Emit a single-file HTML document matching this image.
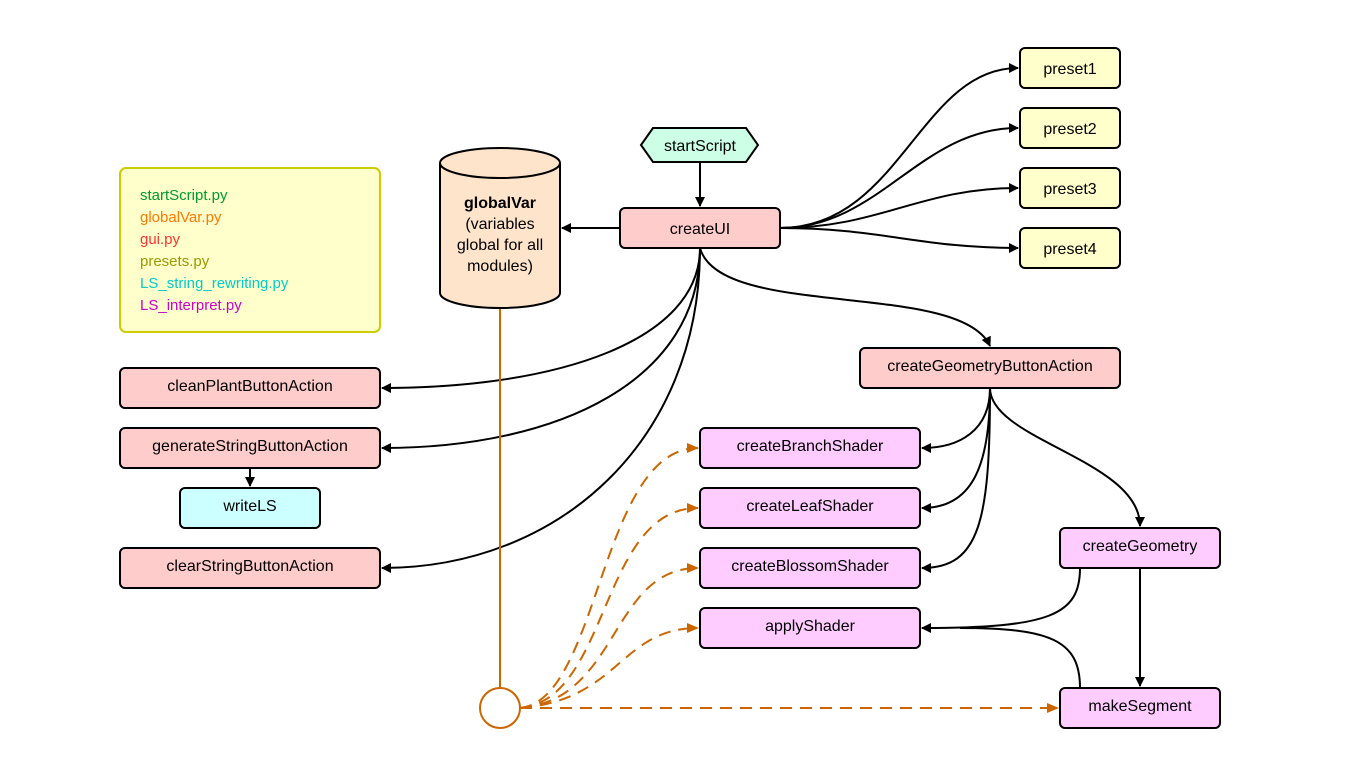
<!DOCTYPE html>
<html><head><meta charset="utf-8"><style>
html,body{margin:0;padding:0;background:#fff;}
svg{display:block;font-family:"Liberation Sans",Arial,sans-serif;}
</style></head><body>
<svg width="1360" height="780" viewBox="0 0 1360 780" xmlns="http://www.w3.org/2000/svg">
<defs>
<marker id="ab" markerWidth="10" markerHeight="10" refX="9" refY="5" orient="auto" markerUnits="userSpaceOnUse"><path d="M0,0 L10,5 L0,10 z" fill="#000"/></marker>
<marker id="ao" markerWidth="12" markerHeight="10" refX="11" refY="5" orient="auto" markerUnits="userSpaceOnUse"><path d="M0,0 L12,5 L0,10 z" fill="#cc6600"/></marker>
</defs>
<rect width="1360" height="780" fill="#fff"/>

<!-- legend -->
<rect x="120" y="168" width="260" height="164" rx="6" fill="#ffffcc" stroke="#cccc00" stroke-width="2"/>
<g font-size="15">
<text x="140" y="200" fill="#009933">startScript.py</text>
<text x="140" y="222" fill="#ff7700">globalVar.py</text>
<text x="140" y="244" fill="#ff3333">gui.py</text>
<text x="140" y="266" fill="#999900">presets.py</text>
<text x="140" y="288" fill="#00cccc">LS_string_rewriting.py</text>
<text x="140" y="310" fill="#cc00cc">LS_interpret.py</text>
</g>

<!-- black edges -->
<g fill="none" stroke="#000" stroke-width="2">
<path d="M700,162 L700,206" marker-end="url(#ab)"/>
<path d="M620,228 L562,228" marker-end="url(#ab)"/>
<path d="M780,228 C900,228 920,68 1018,68" marker-end="url(#ab)"/>
<path d="M780,228 C880,228 920,128 1018,128" marker-end="url(#ab)"/>
<path d="M780,228 C880,228 920,188 1018,188" marker-end="url(#ab)"/>
<path d="M780,228 C880,228 920,248 1018,248" marker-end="url(#ab)"/>
<path d="M700,248 C700,340 560,388 382,388" marker-end="url(#ab)"/>
<path d="M700,248 C700,380 560,448 382,448" marker-end="url(#ab)"/>
<path d="M700,248 C700,440 560,568 382,568" marker-end="url(#ab)"/>
<path d="M700,248 C720,320 960,280 990,346" marker-end="url(#ab)"/>
<path d="M990,388 C990,430 960,448 922,448" marker-end="url(#ab)"/>
<path d="M990,388 C990,470 970,508 922,508" marker-end="url(#ab)"/>
<path d="M990,388 C990,520 980,568 922,568" marker-end="url(#ab)"/>
<path d="M990,388 C990,440 1140,460 1140,526" marker-end="url(#ab)"/>
<path d="M1080,568 C1080,615 1050,628 922,628" marker-end="url(#ab)"/>
<path d="M1080,688 C1080,640 1050,628 960,628"/>
<path d="M1140,568 L1140,686" marker-end="url(#ab)"/>
<path d="M250,468 L250,486" marker-end="url(#ab)"/>
</g>

<!-- orange -->
<g fill="none" stroke="#cc6600" stroke-width="2">
<path d="M500,308 L500,688"/>
<circle cx="500" cy="708" r="20"/>
<g stroke-dasharray="12,8">
<path d="M520,708 C600,700 600,448 698,448" marker-end="url(#ao)"/>
<path d="M520,708 C610,700 600,508 698,508" marker-end="url(#ao)"/>
<path d="M520,708 C620,700 610,568 698,568" marker-end="url(#ao)"/>
<path d="M520,708 C620,700 620,628 698,628" marker-end="url(#ao)"/>
<path d="M520,708 L1058,708" marker-end="url(#ao)"/>
</g>
</g>

<!-- cylinder -->
<path d="M440,163 L440,293 A60,15 0 0 0 560,293 L560,163" fill="#ffe4cc" stroke="#000" stroke-width="2"/>
<ellipse cx="500" cy="163" rx="60" ry="15" fill="#ffe4cc" stroke="#000" stroke-width="2"/>
<g font-size="16" text-anchor="middle">
<text x="500" y="208" font-weight="bold">globalVar</text>
<text x="500" y="229">(variables</text>
<text x="500" y="250">global for all</text>
<text x="500" y="271">modules)</text>
</g>

<!-- hexagon -->
<path d="M653,128 L746,128 L758,145 L746,162 L653,162 L641,145 Z" fill="#ccffe6" stroke="#000" stroke-width="2"/>
<text x="700" y="151" font-size="16" text-anchor="middle">startScript</text>

<g stroke="#000" stroke-width="2" font-size="16" text-anchor="middle">
<rect x="1020" y="48" width="100" height="40" rx="5" fill="#ffffcc"/>
<rect x="1020" y="108" width="100" height="40" rx="5" fill="#ffffcc"/>
<rect x="1020" y="168" width="100" height="40" rx="5" fill="#ffffcc"/>
<rect x="1020" y="228" width="100" height="40" rx="5" fill="#ffffcc"/>
<rect x="620" y="208" width="160" height="40" rx="5" fill="#ffcccc"/>
<rect x="860" y="348" width="260" height="40" rx="5" fill="#ffcccc"/>
<rect x="120" y="368" width="260" height="40" rx="5" fill="#ffcccc"/>
<rect x="120" y="428" width="260" height="40" rx="5" fill="#ffcccc"/>
<rect x="180" y="488" width="140" height="40" rx="5" fill="#ccffff"/>
<rect x="120" y="548" width="260" height="40" rx="5" fill="#ffcccc"/>
<rect x="700" y="428" width="220" height="40" rx="5" fill="#ffccff"/>
<rect x="700" y="488" width="220" height="40" rx="5" fill="#ffccff"/>
<rect x="700" y="548" width="220" height="40" rx="5" fill="#ffccff"/>
<rect x="700" y="608" width="220" height="40" rx="5" fill="#ffccff"/>
<rect x="1060" y="528" width="160" height="40" rx="5" fill="#ffccff"/>
<rect x="1060" y="688" width="160" height="40" rx="5" fill="#ffccff"/>
</g>
<g font-size="16" text-anchor="middle" fill="#000">
<text x="1070" y="74">preset1</text>
<text x="1070" y="134">preset2</text>
<text x="1070" y="194">preset3</text>
<text x="1070" y="254">preset4</text>
<text x="700" y="234">createUI</text>
<text x="990" y="371">createGeometryButtonAction</text>
<text x="250" y="391">cleanPlantButtonAction</text>
<text x="250" y="451">generateStringButtonAction</text>
<text x="250" y="511">writeLS</text>
<text x="250" y="571">clearStringButtonAction</text>
<text x="810" y="451">createBranchShader</text>
<text x="810" y="511">createLeafShader</text>
<text x="810" y="571">createBlossomShader</text>
<text x="810" y="631">applyShader</text>
<text x="1140" y="551">createGeometry</text>
<text x="1140" y="711">makeSegment</text>
</g>
</svg>
</body></html>
